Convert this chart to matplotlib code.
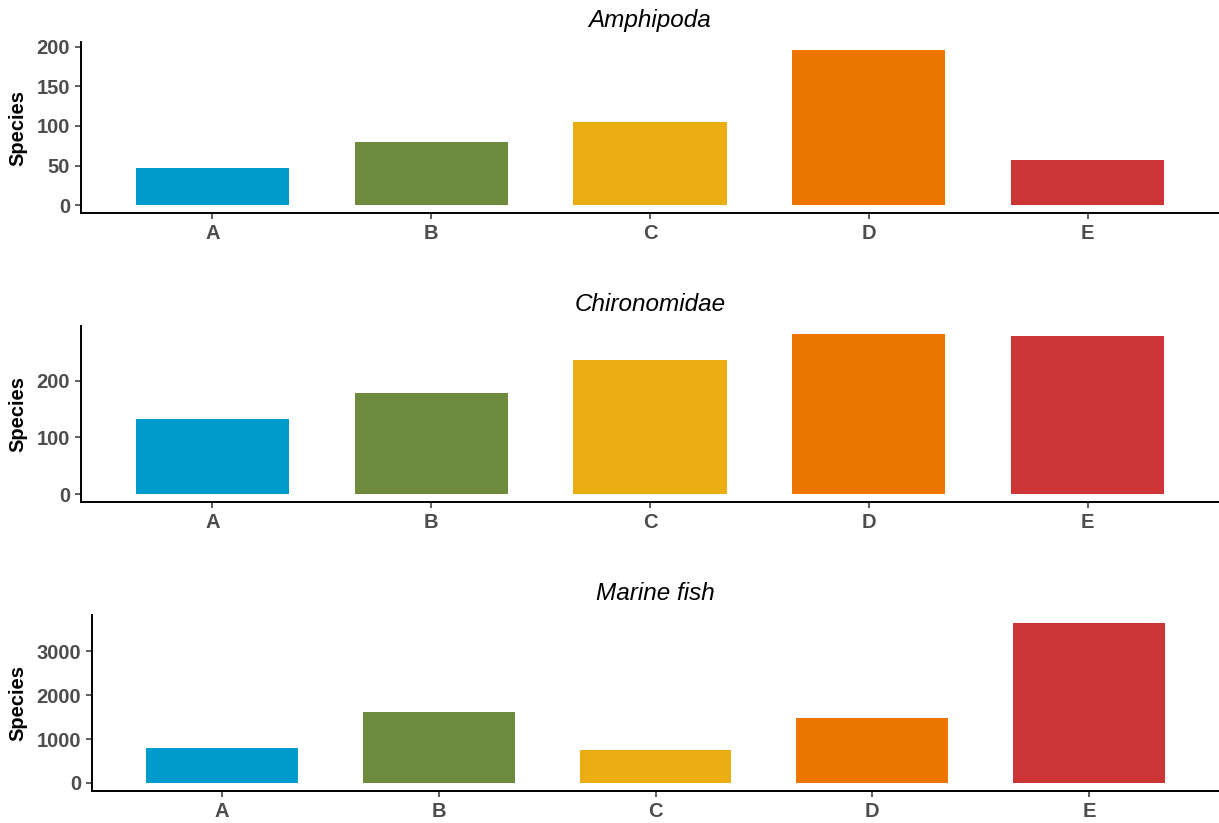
import matplotlib
matplotlib.use("Agg")
import matplotlib.pyplot as plt

plt.rcParams['font.family'] = ['Liberation Sans', 'DejaVu Sans']

# Datos
grupos = ["A", "B", "C", "D", "E"]
colores = ["#009BCD", "#6E8B3D", "#EBAE12", "#ED7600", "#CD3435"]

titulos = ["Amphipoda", "Chironomidae", "Marine fish"]
amphipoda = [47, 80, 105, 196, 57]
chironomidae = [133, 179, 237, 283, 280]
marine_fish = [800, 1620, 760, 1490, 3643]
valores = [amphipoda, chironomidae, marine_fish]

yticks = [[0, 50, 100, 150, 200], [0, 100, 200], [0, 1000, 2000, 3000]]

W, H = 1219, 823
# posiciones de los paneles en pixeles (izq, arriba, abajo)
paneles = [(81, 42, 213), (81, 326, 502), (92, 615, 791)]

fig = plt.figure(figsize=(W / 100, H / 100), dpi=100)

for (izq, arriba, abajo), titulo, vals, yt in zip(paneles, titulos, valores, yticks):
    ax = fig.add_axes([izq / W, 1 - abajo / H, (W - izq) / W, (abajo - arriba) / H])
    x = range(len(grupos))
    ax.bar(x, vals, width=0.7, color=colores)
    ax.set_xlim(-0.6, len(grupos) - 0.4)
    vmax = max(vals)
    ax.set_ylim(-0.05 * vmax, 1.05 * vmax)
    ax.set_xticks(list(x))
    ax.set_xticklabels(grupos)
    ax.set_yticks(yt)
    for s in ["top", "right"]:
        ax.spines[s].set_visible(False)
    for s in ["left", "bottom"]:
        ax.spines[s].set_linewidth(1.4)
        ax.spines[s].set_color("black")
    ax.tick_params(length=4, width=1.1, color="#333333", labelcolor="#4D4D4D",
                   labelsize=14.5)
    ax.tick_params(axis="x", pad=4)
    ax.tick_params(axis="y", pad=4)
    for lab in ax.get_xticklabels() + ax.get_yticklabels():
        lab.set_fontweight("bold")
    ax.set_title(titulo, fontsize=17.5, fontstyle="italic", pad=10.5)
    ax.set_ylabel("Species", fontsize=14.5, fontweight="bold")
    ax.yaxis.set_label_coords(-(izq - 27) / (W - izq), 0.5)

fig.savefig("out.png", dpi=100)
